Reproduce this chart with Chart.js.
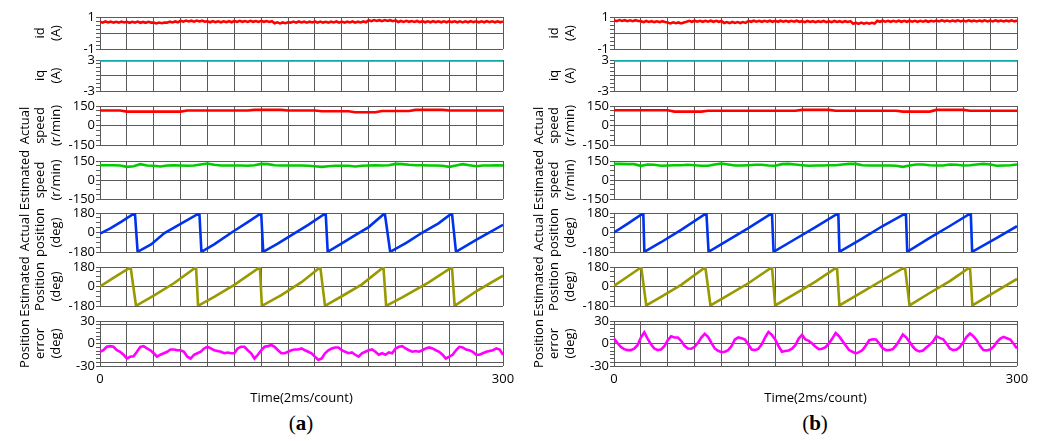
<!DOCTYPE html>
<html><head><meta charset="utf-8">
<script src="https://cdn.jsdelivr.net/npm/chart.js@4.4.1/dist/chart.umd.min.js"></script>
<style>
html,body{margin:0;padding:0;background:#fff;width:1041px;height:441px;overflow:hidden;position:relative}
canvas{position:absolute}
.cap{position:absolute;font-family:"Liberation Serif","DejaVu Serif",serif;font-size:21px;color:#000;width:80px;text-align:center}
</style></head><body>
<div class="cap" style="left:261px;top:411px">(<b>a</b>)</div>
<div class="cap" style="left:775px;top:411px">(<b>b</b>)</div>
<script>
// ---------- time axes (counts, 2 ms each) ----------
const tId = Array.from({length:151},(_,i)=>i*2);
const tIq = [0,20,40,60,80,100,120,140,160,180,200,220,240,260,280,300];
const tSpd = Array.from({length:61},(_,i)=>i*5);
const tErr = Array.from({length:121},(_,i)=>i*2.5);
const xGridTicks = [0,20,40,60,80,100,120,140,160,180,200,220,240,260,280,300];
const xLabels = [0,300];

// ---------- (a) ----------
const idA = [0.71,0.65,0.72,0.66,0.71,0.65,0.70,0.65,0.71,0.66,
0.70,0.64,0.70,0.65,0.71,0.64,0.69,0.64,0.70,0.65,
0.66,0.60,0.65,0.61,0.66,
0.65,0.71,0.66,0.72,0.67,
0.77,0.71,0.78,0.72,0.77,0.71,0.78,0.72,0.77,0.71,
0.73,0.67,0.74,0.68,0.73,0.67,0.73,0.68,0.74,0.67,
0.75,0.69,0.76,0.70,0.75,0.69,0.76,0.70,0.75,0.69,0.76,0.70,0.75,0.69,0.74,
0.61,0.67,0.60,0.66,0.61,0.67,
0.65,0.71,0.65,0.72,0.66,0.71,0.65,0.71,0.66,0.72,0.65,0.71,0.65,0.70,0.65,0.71,0.66,0.72,0.65,0.71,0.65,0.71,0.66,0.72,0.65,0.71,0.66,0.72,0.67,
0.80,0.74,0.81,0.75,0.80,0.74,0.81,0.75,0.80,0.74,0.79,
0.69,0.75,0.69,0.76,0.70,0.75,0.69,0.75,0.68,0.74,
0.67,0.73,0.67,0.74,0.68,0.73,0.67,0.73,0.67,0.74,0.68,0.73,0.67,0.73,0.66,0.73,0.67,0.74,0.68,0.73,0.67,0.73,0.67,0.74,0.68,0.73,0.67,0.73,0.67,0.72];
const iqA = [2.9,2.91,2.9,2.9,2.91,2.9,2.9,2.9,2.91,2.9,2.9,2.91,2.9,2.9,2.9,2.9];
const spdActA = [115,115,115,115,107,107,107,107,107,107,107,107,107,
115,115,115,115,115,115,115,115,115,115,120,120,120,120,120,
115,115,115,115,115,110,110,110,110,110,102,102,102,102,
112,112,112,112,112,120,120,120,120,120,115,115,115,115,115,115,115,115,115];
const spdEstA = [117,117,117,114,104,109,125,114,112,107,114,117,114,112,114,122,130,120,114,114,
114,114,112,117,127,125,117,114,114,114,114,112,109,104,109,112,112,112,107,112,
114,117,114,117,127,125,120,117,117,114,114,112,104,114,125,117,109,114,114,117,114];
const posActA_t = [0,8,16,26,28,38,48,60,74,75.5,85,98,110,120,121.5,132,145,155,168,169.5,180,190,200,212,216,228,240,252,262,265,280,300];
const posActA = [-10,40,100,180,-178,-110,-5,80,178,-178,-110,0,95,178,-178,-105,-5,70,178,-178,-100,-25,50,178,-178,-95,0,85,178,-178,-68,71];
const posEstA_t = [0,10,22.8,26.8,40,55,71.5,73,85,100,119,120.5,135,150,164,167.5,180,195,211,213,225,245,262,264,280,300];
const posEstA = [0,80,178,-178,-85,30,178,-178,-95,15,178,-178,-80,40,178,-178,-90,20,178,-178,-100,40,178,-178,-45,100];
const errA = [-11,-9,-4.4,-3.5,-4.4,-9,-11,-15,-20,-17.6,-17,-11,-4.4,-3.5,-6.6,-9,-13,-17.6,-15,-13,
-11,-8,-8,-9,-9,-11,-17.6,-20,-15,-13,-11,-6.6,-4.4,-6.6,-9,-10,-11,-13,-12,-13,
-13,-6.6,-4.4,-4.4,-9,-13,-20,-15,-9,-4.4,-3.5,-2,-4.4,-9,-13,-13,-11,-9,-8,-8,
-6.6,-9,-11,-13,-17.6,-22,-20,-13,-9,-6.6,-5.3,-5.3,-9,-11,-13,-12,-15,-17.6,-13,-11,
-9,-8,-11,-15,-13,-15,-12,-13,-6.6,-4.4,-3.5,-6.6,-9,-11,-10,-11,-9,-6.6,-5.3,-6.6,
-9,-11,-15,-20,-17.6,-15,-9,-4.4,-5.3,-8,-9,-11,-15,-15,-13,-11,-10,-9,-6.6,-8,-15];

// ---------- (b) ----------
const idB = [.80,.74,.81,.75,.80,.74,.79,.74,.80,.75,
.74,.68,.75,.69,.74,.68,.73,.68,.74,.69,
.66,.60,.67,.61,.66,.60,.66,
.70,.76,.70,.77,.71,.76,.70,.76,.71,.77,.70,.76,.70,.75,
.62,.68,.62,.69,.63,.68,.62,.68,.63,
.76,.70,.77,.71,.76,.70,.76,.71,.77,.70,.76,.70,.77,.71,.76,.70,.76,.71,.77,.70,
.74,.68,.75,.69,.74,.68,.74,.69,.75,.68,.74,.68,.75,.69,.74,.68,.74,.69,.74,
.58,.64,.57,.65,.58,.64,.58,.64,.59,
.76,.70,.77,.71,.76,.70,.76,.71,.77,.70,.76,.70,.77,.71,.76,.70,.76,.71,.77,.70,.76,
.72,.78,.72,.79,.73,.78,.72,.78,.73,.79,.72,.78,.72,.79,.73,.78,.72,.78,.73,.79,.72,.78,.72,.79,.73,.78,.72,.78,.73,.79,.72,.78];
const iqB = [2.9,2.9,2.91,2.9,2.9,2.9,2.91,2.9,2.9,2.91,2.9,2.9,2.9,2.91,2.9,2.9];
const spdActB = [117,117,117,117,117,117,117,117,117,107,107,107,107,107,
114,114,114,114,114,114,114,114,114,114,114,114,114,114,120,120,120,120,120,
114,114,114,114,114,114,114,114,114,114,107,107,107,107,107,120,120,120,120,120,
114,114,114,114,114,114,114,114];
const spdEstB = [127,127,125,125,112,122,120,112,114,117,117,120,117,112,112,122,130,122,114,114,
117,120,120,114,112,125,127,122,117,112,114,114,117,117,122,127,127,117,114,114,
114,114,112,104,114,122,122,117,114,114,122,120,114,117,122,127,122,112,114,117,122];
const posActB_t = [0,10,21.8,22.6,35,50,68.8,70.4,85,100,117.6,118.8,135,150,167,167.8,185,200,217.3,218.3,235,250,265.6,266.6,285,300];
const posActB = [0,80,178,-178,-90,25,178,-178,-70,40,178,-178,-60,50,178,-178,-55,60,178,-178,-50,60,178,-178,-50,58];
const posEstB_t = [0,10,20.3,24,35,50,68,71.8,85,100,117.6,120,135,150,166,167.8,185,200,216.6,220,235,250,265,266.8,285,300];
const posEstB = [6,90,178,-175,-95,15,178,-175,-80,30,178,-175,-65,45,178,-175,-50,60,178,-175,-60,50,178,-175,-40,70];
const errB = [6.6,0.9,-4.4,-7.5,-8.8,-8.8,-7,-2.2,8,15,6.6,-1,-6.6,-8.8,-8,-3.5,4.4,9.7,8,8,
3.5,-3,-6.6,-7,-4.4,0.9,8,12.8,8.8,0.9,-6.6,-9.7,-11.5,-11,-8.8,-3.5,5.3,8,7,5.3,
-1.3,-8,-8.8,-7,-1,8,15.4,11.5,5.3,-3.5,-11,-10,-9.3,-7,-2.2,6.6,11.5,5.3,3.5,0,
-4.4,-7.5,-7,-4.8,0,6.6,14,9.7,3.5,-2.6,-8.8,-11,-13.2,-11.5,-8.8,-2.6,4.4,5.7,5.3,0,
-6.2,-8.8,-8.8,-7.5,-2.6,4.4,11.9,8,2.2,-4.4,-8.8,-10.6,-9.3,-5.3,-1.8,2.6,9.7,7.5,5.7,0,
-6.6,-8.8,-8,-4.8,1.8,8.8,13.2,9.7,4.4,-3.5,-8.8,-9.3,-8,-4.4,1.8,6.6,8.8,7,5.3,-0.4,-6.6];

// ---------- axis definitions ----------
const axId   = {min:-1,max:1,ticks:[-1,-0.75,-0.5,-0.25,0,0.25,0.5,0.75,1],grid:[-1,0,1],labels:[-1,1],title:['id','(A)']};
const axIq   = {min:-3,max:3,ticks:[-3,-2.25,-1.5,-0.75,0,0.75,1.5,2.25,3],grid:[-3,0,3],labels:[-3,3],title:['iq','(A)']};
const axSpdA = {min:-150,max:150,ticks:[-150,-112.5,-75,-37.5,0,37.5,75,112.5,150],grid:[-150,0,150],labels:[-150,0,150],title:['Actual','speed','(r/min)']};
const axSpdE = {min:-150,max:150,ticks:[-150,-112.5,-75,-37.5,0,37.5,75,112.5,150],grid:[-150,0,150],labels:[-150,0,150],title:['Estimated','speed','(r/min)']};
const axPosA = {min:-180,max:180,ticks:[-180,-135,-90,-45,0,45,90,135,180],grid:[-180,0,180],labels:[-180,0,180],title:['Actual','position','(deg)']};
const axPosE = {min:-180,max:180,ticks:[-180,-135,-90,-45,0,45,90,135,180],grid:[-180,0,180],labels:[-180,0,180],title:['Estimated','Position','(deg)']};
const axErr  = {min:-30,max:30,ticks:[-30,-25,-20,-15,-10,-5,0,5,10,15,20,25,30],grid:[-30,-25,0,25,30],labels:[-30,0,30],title:['Position','error','(deg)']};

const GRID = '#5a5a5a';
const FONT = {family:"'Open Sans', sans-serif", size:13};
const TFONT = {family:"'Open Sans', sans-serif", size:13, lineHeight:1.2};
Chart.defaults.font.family = "'Open Sans', sans-serif";

function makeChart(offX, top, bottom, ax, xs, ys, color, isBottom){
  const PT = 22, PB = isBottom ? 60 : 22, PR = 17, W = 520;
  const H = bottom - top + PT + PB;
  const cv = document.createElement('canvas');
  cv.width = W; cv.height = H;
  cv.style.left = offX + 'px'; cv.style.top = (top - PT) + 'px';
  cv.style.width = W + 'px'; cv.style.height = H + 'px';
  document.body.appendChild(cv);
  const pts = xs.map((x,i)=>({x:x, y:ys[i]}));
  const nLines = ax.title.length;
  const lh = 13*1.2;
  const tpad = 56 - lh*(nLines - 0.5);
  new Chart(cv, {
    type:'line',
    data:{datasets:[{data:pts, borderColor:color, backgroundColor:color, borderWidth:2.6, pointRadius:0, tension:0, fill:false}]},
    options:{
      responsive:false, animation:false, devicePixelRatio:1, parsing:true,
      layout:{padding:{top:PT, bottom:isBottom?0:PB, left:0, right:PR}},
      plugins:{legend:{display:false}, tooltip:{enabled:false}, title:{display:false}},
      scales:{
        x:{type:'linear', min:0, max:300,
          afterBuildTicks: s => { s.ticks = xGridTicks.map(v=>({value:v})); },
          grid:{color:GRID, lineWidth:1, drawTicks:false},
          border:{display:false},
          ticks:{display:isBottom, autoSkip:false, maxRotation:0, padding:5, font:FONT, color:'#000',
                 callback: v => xLabels.includes(v) ? String(v) : ''},
          title:{display:isBottom, text:'Time(2ms/count)', font:FONT, color:'#000', padding:{top:0,bottom:20}},
          afterFit: s => { s.height = isBottom ? PB : 0; }
        },
        y:{type:'linear', min:ax.min, max:ax.max,
          afterBuildTicks: s => { s.ticks = ax.ticks.map(v=>({value:v})); },
          grid:{color: c => (c.tick && ax.grid.includes(c.tick.value)) ? GRID : 'rgba(0,0,0,0)',
                tickColor:GRID, tickLength:4, drawTicks:true, lineWidth:1},
          border:{display:false},
          ticks:{autoSkip:false, padding:1, font:FONT, color:'#000',
                 callback: v => ax.labels.includes(v) ? String(v) : ''},
          title:{display:true, text:ax.title, font:TFONT, color:'#000', padding:{top:tpad, bottom:0}},
          afterFit: s => { s.width = 100; }
        }
      }
    }
  });
}

const rows = [[17,49],[60,91],[106,145],[161,199],[213,252],[267,306],[321,366]];
const panels = [
  {off:0,   sets:[[tId,idA],[tIq,iqA],[tSpd,spdActA],[tSpd,spdEstA],[posActA_t,posActA],[posEstA_t,posEstA],[tErr,errA]]},
  {off:514, sets:[[tId,idB],[tIq,iqB],[tSpd,spdActB],[tSpd,spdEstB],[posActB_t,posActB],[posEstB_t,posEstB],[tErr,errB]]}
];
const axes = [axId, axIq, axSpdA, axSpdE, axPosA, axPosE, axErr];
const colors = ['#ff0000','#10a8a8','#ff0000','#00cc00','#0033ee','#999900','#ff00ff'];
panels.forEach(p => {
  p.sets.forEach((s,i) => {
    makeChart(p.off, rows[i][0], rows[i][1], axes[i], s[0], s[1], colors[i], i === 6);
  });
});
</script>
</body></html>
